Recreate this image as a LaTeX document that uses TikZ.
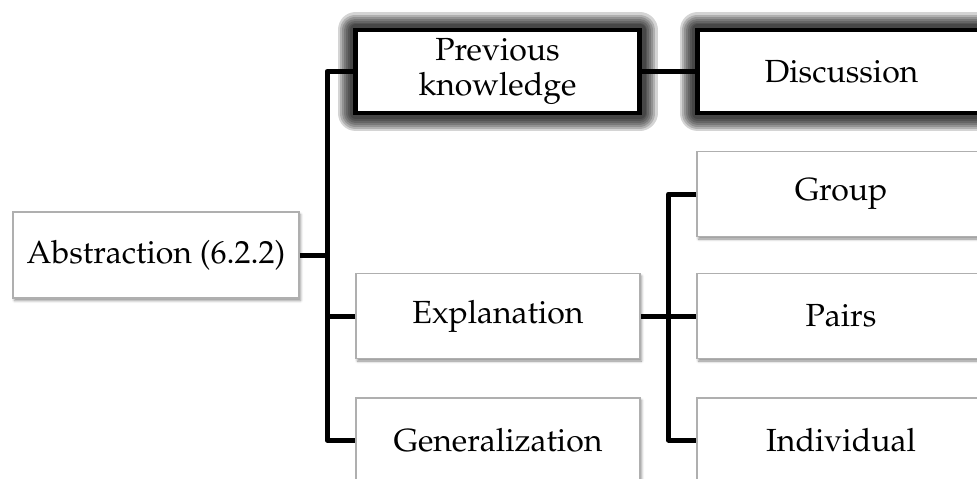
\documentclass[tikz,border=0pt]{standalone}
\usepackage[T1]{fontenc}
\usepackage{mathpazo}
\usetikzlibrary{shadows.blur}
\tikzset{
  lightbox/.style={draw={rgb,255:red,175;green,175;blue,175}, line width=1.5pt, fill=white,
    minimum width=#1, inner sep=0pt, align=center,
    blur shadow={shadow xshift=1.5pt, shadow yshift=-2.5pt, shadow blur radius=2.5pt, shadow opacity=45}},
  glowlayer/.style={preaction={draw=black, draw opacity=0.17, line width=#1, line join=round}},
  boldbox/.style={draw=black, line width=4.5pt, fill=white, minimum width=#1, inner sep=0pt, align=center,
    glowlayer=36pt, glowlayer=31pt, glowlayer=27pt, glowlayer=23pt, glowlayer=19pt, glowlayer=15pt, glowlayer=12pt},
  conn/.style={line width=5pt, black, line join=round},
  txt/.style={font=\fontsize{32}{35}\selectfont}
}
\begin{document}
\begin{tikzpicture}[x=1pt, y=-1pt]
\useasboundingbox (0,0) rectangle (977,479);
\clip (0,0) rectangle (977,479);
% boxes
\node[lightbox=286pt, minimum height=86pt, txt] (abs) at (156,255) {Abstraction (6.2.2)};
\node[boldbox=284pt, minimum height=83pt, txt] (prev) at (497.5,71.5) {Previous\\knowledge};
\node[boldbox=288pt, minimum height=83pt, txt] (disc) at (841.5,71.5) {Discussion};
\node[lightbox=284pt, minimum height=85pt, txt] (expl) at (498,316) {Explanation};
\node[lightbox=284pt, minimum height=86pt, txt, anchor=north] (gen) at (498,397) {};
\node[txt] (gentxt) at (498,440) {Generalization};
\node[lightbox=288pt, minimum height=85pt, txt] (grp) at (841,194) {Group};
\node[lightbox=288pt, minimum height=85pt, txt] (pairs) at (841,316) {Pairs};
\node[lightbox=288pt, minimum height=86pt, txt, anchor=north] (ind) at (841,397) {};
\node[txt] (indtxt) at (841,440) {Individual};
% trunks
\coordinate (t1) at (327,0);
\coordinate (t2) at (668.5,0);
% connectors
\draw[conn] (prev.west) -| (t1 |- gentxt) -- (gen.west |- gentxt);
\draw[conn] (abs.east) -- (t1 |- abs.east);
\draw[conn] (expl.west) -- (t1 |- expl.west);
\draw[conn] (prev.east) -- (disc.west);
\draw[conn] (grp.west) -| (t2 |- indtxt) -- (ind.west |- indtxt);
\draw[conn] (expl.east) -- (pairs.west);
\end{tikzpicture}
\end{document}
